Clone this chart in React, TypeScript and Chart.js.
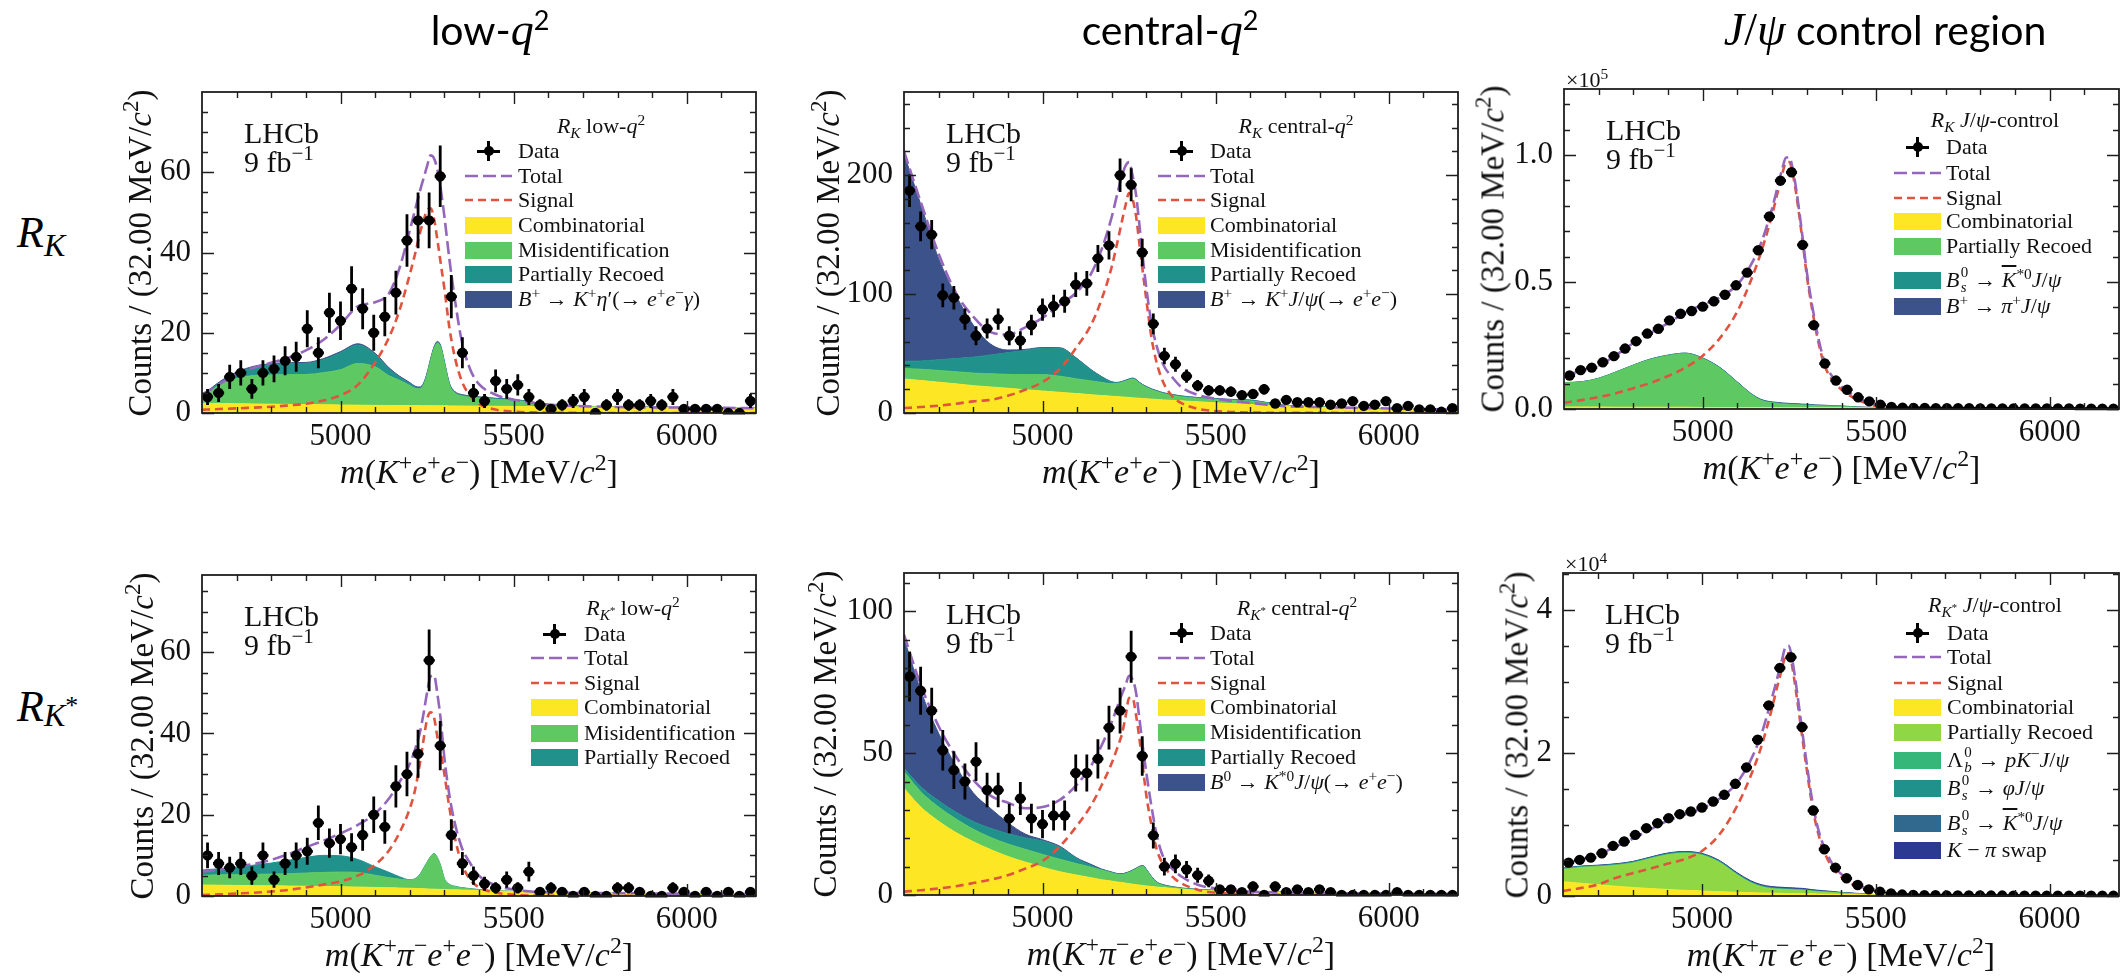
import React, { useEffect, useRef } from 'react';
import { Chart, registerables } from 'chart.js';

Chart.register(...registerables);

// ---------------- shared axis values ----------------
const binCenters = [4616, 4648, 4680, 4712, 4744, 4776, 4808, 4840, 4872, 4904, 4936, 4968, 5000, 5032, 5064, 5096, 5128, 5160, 5192, 5224, 5256, 5288, 5320, 5352, 5384, 5416, 5448, 5480, 5512, 5544, 5576, 5608, 5640, 5672, 5704, 5736, 5768, 5800, 5832, 5864, 5896, 5928, 5960, 5992, 6024, 6056, 6088, 6120, 6152, 6184];
const binHalfWidth = 16;
const curveMass = [4600, 4650, 4700, 4750, 4800, 4850, 4900, 4950, 5000, 5050, 5100, 5140, 5170, 5200, 5215, 5230, 5240, 5250, 5260, 5270, 5280, 5290, 5300, 5315, 5330, 5350, 5375, 5400, 5450, 5500, 5550, 5600, 5700, 5800, 5900, 6000, 6100, 6200];
const xMajorTicks = [5000, 5500, 6000];
const xMinorTicks = [4700, 4800, 4900, 5100, 5200, 5300, 5400, 5600, 5700, 5800, 5900, 6100];

// ---------------- R_K low-q2 ----------------
const rkLowCounts = [4, 5, 9, 10, 6, 10, 11, 13, 14, 21, 15, 25, 23, 31, 26, 20, 24, 30, 43, 48, 48, 59, 29, 15, 5, 3, 8, 6, 7, 4, 2, 1, 2, 3, 4, 0, 2, 4, 2, 2, 3, 2, 4, 1, 1, 1, 1, 0, 0, 3];
const rkLowComb = [2.4, 2.35, 2.3, 2.25, 2.2, 2.15, 2.1, 2.05, 2.0, 1.95, 1.9, 1.88, 1.86, 1.85, 1.84, 1.83, 1.82, 1.82, 1.81, 1.8, 1.8, 1.79, 1.78, 1.77, 1.76, 1.75, 1.73, 1.72, 1.68, 1.65, 1.6, 1.57, 1.5, 1.45, 1.38, 1.32, 1.27, 1.22];
const rkLowMisid = [1.3, 4.6, 6.3, 7.1, 7.3, 7.4, 7.5, 8.0, 8.8, 10.4, 9.6, 7.4, 6.3, 5.0, 4.3, 4.2, 5.2, 7.7, 11.2, 14.2, 15.6, 14.4, 10.7, 5.2, 3.2, 2.5, 2.2, 2.0, 1.7, 1.5, 1.0, 0.4, 0.1, 0.05, 0.04, 0.03, 0.03, 0.03];
const rkLowPartReco = [0.3, 0.5, 1.3, 2.0, 2.5, 2.7, 2.7, 3.2, 4.2, 4.6, 3.1, 1.7, 0.8, 0.5, 0.3, 0.2, 0.2, 0.2, 0.2, 0.2, 0.2, 0.2, 0.2, 0.2, 0.2, 0.2, 0.2, 0.2, 0.18, 0.16, 0.15, 0.1, 0.05, 0.03, 0.03, 0.03, 0.03, 0.03];
const rkLowEtaPrime = [0.3, 0.3, 0.3, 0.3, 0.3, 0.3, 0.3, 0.3, 0.3, 0.3, 0.3, 0.3, 0.25, 0.25, 0.25, 0.25, 0.25, 0.25, 0.25, 0.25, 0.25, 0.25, 0.2, 0.2, 0.2, 0.15, 0.15, 0.1, 0.1, 0.08, 0.06, 0.05, 0.04, 0.03, 0.03, 0.02, 0.02, 0.02];
const rkLowSignal = [0.8, 1.0, 1.15, 1.35, 1.55, 1.9, 2.3, 3.1, 4.4, 7.0, 12.6, 18.8, 25.5, 34.5, 39.5, 45, 48, 50.5, 51, 48.5, 43, 37, 31, 21, 14, 8, 4.2, 2.3, 0.8, 0.35, 0.15, 0.07, 0.03, 0.01, 0.01, 0.01, 0.01, 0.01];
const rkLowTotal = [4.6, 7.2, 9.6, 11.3, 12.5, 13.8, 15.6, 18.2, 22.0, 26.6, 27.6, 29.8, 36.0, 45.5, 50.5, 55.5, 58.5, 61.5, 64.2, 63.5, 60.6, 55.5, 49, 38, 28.5, 18, 10.8, 7.2, 4.5, 3.3, 2.6, 2.1, 1.7, 1.5, 1.4, 1.35, 1.3, 1.2];

// ---------------- R_K central-q2 ----------------
const rkCentralCounts = [187, 157, 150, 99, 97, 79, 65, 71, 79, 65, 61, 74, 87, 90, 94, 108, 109, 130, 141, 200, 192, 135, 75, 48, 41, 31, 23, 19, 19, 18, 15, 16, 20, 8, 11, 9, 9, 9, 7, 8, 10, 6, 7, 10, 4, 6, 3, 3, 1, 4];
const rkCentralComb = [28.6, 27.3, 25.9, 24.5, 23.0, 21.9, 20.8, 19.6, 18.5, 17.4, 16.3, 15.4, 14.7, 14.1, 13.8, 13.5, 13.3, 13.1, 12.8, 12.6, 12.4, 12.2, 12.0, 11.7, 11.4, 11.0, 10.6, 10.2, 9.4, 8.6, 7.8, 7.2, 5.9, 4.8, 3.8, 3.0, 2.5, 2.0];
const rkCentralMisid = [8.9, 9.5, 9.9, 10.2, 10.6, 11.1, 11.7, 12.6, 13.7, 13.6, 12.3, 11.6, 11.1, 10.5, 11.0, 12.3, 13.5, 14.7, 15.8, 14.9, 12.6, 10.8, 9.5, 7.8, 6.6, 5.2, 4.2, 3.4, 2.8, 2.7, 2.8, 2.9, 0.3, 0.2, 0.2, 0.2, 0.1, 0.1];
const rkCentralPartReco = [5.9, 7.0, 9.0, 11.1, 13.4, 15.8, 18.3, 20.4, 22.4, 23.5, 16.9, 9.2, 4.7, 1.4, 0.7, 0.6, 0.6, 0.6, 0.6, 0.6, 0.6, 0.6, 0.6, 0.6, 0.6, 0.6, 0.6, 0.6, 0.6, 0.6, 0.6, 0.6, 0.2, 0.1, 0.1, 0.1, 0.1, 0.1];
const rkCentralJpsiLeak = [174.6, 130.2, 85.2, 53.2, 27, 9.2, 2.2, 0.9, 0.5, 0.4, 0.3, 0.3, 0.3, 0.3, 0.2, 0.2, 0.2, 0.2, 0.2, 0.2, 0.2, 0.2, 0.2, 0.2, 0.2, 0.2, 0.2, 0.2, 0.2, 0.2, 0.2, 0.2, 0.1, 0.1, 0.1, 0.1, 0.1, 0.1];
const rkCentralSignal = [4.2, 5.0, 6.2, 7.8, 9.8, 11, 14.5, 19.5, 26, 37, 56, 74, 95, 123, 142, 162, 175, 185, 180, 166, 142, 118, 95, 63, 42, 25, 14, 8.5, 3.4, 1.6, 0.8, 0.4, 0.15, 0.08, 0.05, 0.05, 0.05, 0.05];
const rkCentralTotal = [220, 176, 134, 101, 81, 68, 66, 72, 80, 91, 102, 117, 137, 165, 183, 200, 208, 211, 200, 184, 158, 130, 105, 75, 56, 40, 30, 22, 15, 12, 10, 8.5, 5.8, 5, 4.4, 3.8, 3.3, 2.8];

// ---------------- R_K J/psi control (x 10^5) ----------------
const rkJpsiCounts = [0.132, 0.153, 0.163, 0.184, 0.208, 0.238, 0.267, 0.297, 0.316, 0.349, 0.375, 0.386, 0.403, 0.424, 0.45, 0.487, 0.537, 0.625, 0.758, 0.899, 0.932, 0.646, 0.33, 0.179, 0.112, 0.076, 0.046, 0.03, 0.017, 0.008, 0.005, 0.004, 0.004, 0.003, 0.003, 0.003, 0.003, 0.002, 0.002, 0.002, 0.002, 0.002, 0.002, 0.002, 0.002, 0.002, 0.001, 0.001, 0.001, 0.001];
const rkJpsiComb = [0.008, 0.008, 0.008, 0.007, 0.007, 0.007, 0.007, 0.007, 0.006, 0.006, 0.006, 0.006, 0.006, 0.006, 0.006, 0.005, 0.005, 0.005, 0.005, 0.005, 0.005, 0.005, 0.005, 0.005, 0.005, 0.005, 0.005, 0.005, 0.005, 0.004, 0.004, 0.004, 0.004, 0.003, 0.003, 0.003, 0.003, 0.003];
const rkJpsiPartReco = [0.095, 0.098, 0.112, 0.138, 0.165, 0.188, 0.203, 0.211, 0.192, 0.154, 0.097, 0.051, 0.027, 0.018, 0.016, 0.015, 0.014, 0.013, 0.012, 0.012, 0.011, 0.010, 0.010, 0.009, 0.008, 0.007, 0.006, 0.005, 0.002, 0.001, 0, 0, 0, 0, 0, 0, 0, 0];
const rkJpsiBsKstar = [0.001, 0.001, 0.001, 0.001, 0.001, 0.002, 0.002, 0.002, 0.002, 0.002, 0.002, 0.002, 0.002, 0.002, 0.002, 0.002, 0.002, 0.002, 0.002, 0.002, 0.002, 0.002, 0.002, 0.001, 0.001, 0.001, 0.001, 0.001, 0, 0, 0, 0, 0, 0, 0, 0, 0, 0];
const rkJpsiBtoPi = [0, 0, 0, 0, 0, 0, 0, 0, 0.001, 0.001, 0.001, 0.001, 0.002, 0.002, 0.002, 0.002, 0.002, 0.002, 0.002, 0.002, 0.002, 0.002, 0.002, 0.002, 0.002, 0.002, 0.001, 0.001, 0.001, 0.001, 0, 0, 0, 0, 0, 0, 0, 0];
const rkJpsiSignal = [0.024, 0.035, 0.047, 0.062, 0.082, 0.103, 0.13, 0.163, 0.21, 0.28, 0.385, 0.51, 0.625, 0.765, 0.848, 0.93, 0.97, 0.972, 0.923, 0.843, 0.744, 0.635, 0.525, 0.396, 0.285, 0.176, 0.112, 0.076, 0.034, 0.012, 0.005, 0.003, 0.001, 0.0005, 0.0005, 0.0005, 0.0005, 0.0005];
const rkJpsiTotal = [0.128, 0.152, 0.172, 0.212, 0.26, 0.30, 0.338, 0.38, 0.41, 0.44, 0.49, 0.57, 0.66, 0.79, 0.87, 0.95, 0.99, 0.99, 0.94, 0.86, 0.76, 0.65, 0.54, 0.41, 0.30, 0.19, 0.125, 0.088, 0.043, 0.018, 0.008, 0.005, 0.003, 0.003, 0.0025, 0.002, 0.002, 0.0015];

// ---------------- R_K* low-q2 ----------------
const rkstLowCounts = [10, 8, 7, 8, 5, 10, 4, 8, 10, 11, 18, 13, 14, 12, 15, 20, 17, 27, 30, 35, 58, 37, 15, 8, 5, 3, 2, 4, 2, 6, 1, 2, 1, 0, 1, 0, 0, 2, 2, 1, 0, 0, 2, 1, 0, 1, 0, 1, 0, 1];
const rkstLowComb = [2.7, 2.65, 2.6, 2.55, 2.5, 2.45, 2.4, 2.35, 2.3, 2.2, 2.1, 2.02, 1.96, 1.9, 1.86, 1.82, 1.78, 1.74, 1.7, 1.67, 1.64, 1.62, 1.6, 1.56, 1.52, 1.47, 1.41, 1.35, 1.22, 1.1, 1.0, 0.9, 0.75, 0.65, 0.55, 0.5, 0.45, 0.4];
const rkstLowMisid = [2.4, 2.55, 2.65, 2.75, 2.9, 3.05, 3.25, 3.45, 3.6, 3.6, 3.0, 2.5, 2.2, 2.0, 2.3, 3.5, 5.0, 6.5, 7.9, 8.7, 7.7, 5.6, 2.6, 1.2, 0.8, 0.5, 0.3, 0.15, 0.05, 0.02, 0.02, 0.02, 0.02, 0.02, 0.02, 0.02, 0.02, 0.02];
const rkstLowPartReco = [1.3, 1.5, 1.85, 2.3, 2.7, 3.3, 3.85, 4.2, 4.0, 3.2, 2.1, 1.3, 0.6, 0.1, 0.1, 0.1, 0.1, 0.1, 0.1, 0.1, 0.1, 0.1, 0.1, 0.1, 0.1, 0.1, 0.1, 0.1, 0.05, 0.03, 0.02, 0.02, 0.02, 0.01, 0.01, 0.01, 0.01, 0.01];
const rkstLowSignal = [0.25, 0.4, 0.6, 0.8, 1.1, 1.5, 2.1, 2.8, 3.6, 5.0, 7.7, 11.2, 15.5, 21.5, 26, 33, 38.5, 43.5, 45.2, 44.0, 39, 35, 30, 21.5, 14.5, 8, 4, 2.1, 0.8, 0.3, 0.12, 0.05, 0.02, 0.02, 0.02, 0.02, 0.02, 0.02];
const rkstLowTotal = [6.0, 6.5, 7.2, 7.9, 8.9, 10.3, 12.0, 13.6, 15.4, 17.5, 20.3, 24.0, 28.0, 32.5, 36.0, 40.5, 45, 50, 54, 54.3, 49.6, 43, 34, 24.5, 18, 12, 8, 5.0, 2.6, 1.6, 1.1, 0.9, 0.75, 0.7, 0.62, 0.57, 0.53, 0.5];

// ---------------- R_K* central-q2 ----------------
const rkstCentralCounts = [77, 72, 65, 51, 44, 40, 47, 37, 37, 27, 34, 27, 25, 28, 28, 43, 43, 48, 59, 65, 84, 49, 21, 10, 11, 9, 7, 5, 2, 2, 1, 3, 0, 3, 1, 2, 1, 2, 1, 0, 0, 0, 0, 0, 1, 0, 0, 0, 0, 0];
const rkstCentralComb = [37.6, 30.8, 26.0, 22.0, 18.8, 16.0, 13.6, 11.6, 9.8, 8.2, 7.0, 6.1, 5.4, 4.9, 4.6, 4.4, 4.2, 4.0, 3.8, 3.65, 3.5, 3.35, 3.2, 3.0, 2.8, 2.6, 2.3, 2.05, 1.65, 1.4, 1.2, 1.05, 0.85, 0.7, 0.6, 0.52, 0.46, 0.4];
const rkstCentralMisid = [5.9, 5.4, 5.0, 4.8, 4.4, 4.3, 4.4, 4.5, 4.5, 4.4, 4.0, 3.7, 3.4, 2.9, 2.7, 2.8, 3.3, 3.9, 4.7, 5.45, 6.3, 6.75, 5.6, 3.2, 1.5, 0.7, 0.4, 0.25, 0.2, 0.15, 0.1, 0.07, 0.05, 0.04, 0.03, 0.03, 0.02, 0.02];
const rkstCentralPartReco = [1.2, 1.8, 2.2, 2.4, 2.7, 3.2, 3.6, 4.1, 4.7, 4.2, 1.8, 0.6, 0.2, 0.2, 0.2, 0.2, 0.2, 0.2, 0.2, 0.2, 0.2, 0.2, 0.2, 0.2, 0.2, 0.2, 0.15, 0.1, 0.08, 0.05, 0.04, 0.03, 0.02, 0.02, 0.01, 0.01, 0.01, 0.01];
const rkstCentralJpsiLeak = [45.8, 33.5, 23.8, 16.3, 10.1, 7.0, 3.9, 1.3, 0.5, 0.4, 0.2, 0.4, 0.2, 0.1, 0.1, 0.1, 0.1, 0.1, 0.1, 0.1, 0.1, 0.1, 0.1, 0.1, 0.1, 0.1, 0.1, 0.1, 0.05, 0.05, 0.03, 0.02, 0.02, 0.01, 0.01, 0.01, 0.01, 0.01];
const rkstCentralSignal = [1.2, 1.7, 2.3, 3.1, 4.2, 5.4, 7.0, 9.3, 12.0, 17.1, 24.5, 31.5, 38.5, 46.5, 51.5, 57, 63, 69.4, 69.5, 63.5, 55, 45, 35, 24.5, 16, 10.5, 6.5, 4.2, 1.8, 0.8, 0.4, 0.2, 0.08, 0.03, 0.03, 0.03, 0.03, 0.03];
const rkstCentralTotal = [91.8, 73.5, 59.5, 48.8, 40.6, 35, 32.5, 30.6, 31.0, 33.5, 39, 45.5, 52.5, 61, 66, 71, 74, 77.3, 76, 71.5, 62, 52, 43, 31, 21, 13, 9.2, 6.6, 3.5, 2.3, 1.5, 1.2, 0.8, 0.7, 0.6, 0.5, 0.45, 0.4];

// ---------------- R_K* J/psi control (x 10^4) ----------------
const rkstJpsiCounts = [0.467, 0.505, 0.537, 0.598, 0.701, 0.762, 0.855, 0.949, 1.019, 1.089, 1.145, 1.182, 1.238, 1.322, 1.416, 1.570, 1.799, 2.187, 2.668, 3.192, 3.341, 2.364, 1.196, 0.654, 0.397, 0.248, 0.154, 0.093, 0.061, 0.037, 0.02, 0.015, 0.012, 0.01, 0.009, 0.008, 0.007, 0.007, 0.006, 0.006, 0.005, 0.005, 0.005, 0.004, 0.004, 0.004, 0.004, 0.003, 0.003, 0.003];
const rkstJpsiComb = [0.2, 0.178, 0.158, 0.138, 0.12, 0.105, 0.092, 0.08, 0.07, 0.06, 0.052, 0.047, 0.043, 0.04, 0.038, 0.037, 0.036, 0.035, 0.034, 0.033, 0.033, 0.032, 0.031, 0.03, 0.028, 0.026, 0.024, 0.022, 0.019, 0.016, 0.013, 0.011, 0.009, 0.007, 0.006, 0.005, 0.004, 0.004];
const rkstJpsiPartReco = [0.17, 0.22, 0.252, 0.29, 0.34, 0.415, 0.483, 0.518, 0.5, 0.41, 0.248, 0.138, 0.087, 0.063, 0.059, 0.056, 0.054, 0.053, 0.052, 0.051, 0.049, 0.048, 0.044, 0.038, 0.033, 0.029, 0.024, 0.018, 0.009, 0.002, 0, 0, 0, 0, 0, 0, 0, 0];
const rkstJpsiLambdaB = [0.008, 0.008, 0.008, 0.008, 0.008, 0.008, 0.008, 0.008, 0.008, 0.008, 0.008, 0.007, 0.007, 0.006, 0.006, 0.006, 0.006, 0.005, 0.005, 0.005, 0.005, 0.005, 0.005, 0.004, 0.004, 0.004, 0.003, 0.003, 0.002, 0.001, 0, 0, 0, 0, 0, 0, 0, 0];
const rkstJpsiBsPhi = [0.004, 0.004, 0.004, 0.004, 0.004, 0.004, 0.004, 0.004, 0.004, 0.004, 0.004, 0.004, 0.003, 0.003, 0.003, 0.003, 0.003, 0.003, 0.003, 0.003, 0.003, 0.003, 0.002, 0.002, 0.002, 0.002, 0.002, 0.001, 0.001, 0, 0, 0, 0, 0, 0, 0, 0, 0];
const rkstJpsiBsKstar = [0.004, 0.004, 0.005, 0.005, 0.006, 0.006, 0.007, 0.007, 0.007, 0.007, 0.007, 0.006, 0.006, 0.006, 0.006, 0.006, 0.006, 0.006, 0.006, 0.005, 0.005, 0.005, 0.005, 0.004, 0.004, 0.003, 0.003, 0.002, 0.001, 0, 0, 0, 0, 0, 0, 0, 0, 0];
const rkstJpsiSwap = [0.004, 0.004, 0.004, 0.005, 0.005, 0.005, 0.006, 0.006, 0.007, 0.008, 0.01, 0.012, 0.013, 0.014, 0.014, 0.014, 0.014, 0.014, 0.014, 0.014, 0.014, 0.013, 0.013, 0.012, 0.011, 0.01, 0.008, 0.006, 0.004, 0.002, 0.001, 0, 0, 0, 0, 0, 0, 0];
const rkstJpsiSignal = [0.07, 0.11, 0.16, 0.25, 0.32, 0.38, 0.45, 0.515, 0.63, 0.86, 1.25, 1.68, 2.08, 2.6, 2.9, 3.18, 3.36, 3.4, 3.2, 2.88, 2.53, 2.17, 1.82, 1.33, 0.96, 0.64, 0.4, 0.27, 0.12, 0.05, 0.022, 0.011, 0.004, 0.002, 0.002, 0.002, 0.002, 0.002];
const rkstJpsiTotal = [0.45, 0.51, 0.575, 0.69, 0.80, 0.93, 1.05, 1.14, 1.23, 1.36, 1.58, 1.90, 2.25, 2.75, 3.02, 3.30, 3.48, 3.5, 3.30, 2.98, 2.62, 2.25, 1.90, 1.40, 1.02, 0.70, 0.45, 0.31, 0.15, 0.07, 0.035, 0.022, 0.015, 0.012, 0.01, 0.008, 0.007, 0.006];

// ---------------- styles ----------------
const SERIF = '"Liberation Serif", "DejaVu Serif", serif';
const SANS = 'Lato, "Open Sans", "Noto Sans", sans-serif';
const C_COMB = '#fde725';
const C_MISID = '#5ec962';
const C_PART = '#21918c';
const C_PEAK = '#3b528b';
const C_PART6 = '#8fd744';
const C_LB6 = '#35b779';
const C_PHI6 = '#21918c';
const C_KST6 = '#31688e';
const C_SWAP6 = '#2b3990';
const C_TOTAL = '#9467bd';
const C_SIGNAL = '#e0533f';
const PAD_L = 110, PAD_T = 40, PAD_R = 20, PAD_B = 60;
const LEGEND_FONT = 22;

const Sup = ({ children }: any) => (
  <span style={{ fontSize: '0.7em', position: 'relative', top: '-0.55em', lineHeight: 0 }}>{children}</span>
);
const Sub = ({ children }: any) => (
  <span style={{ fontSize: '0.7em', position: 'relative', top: '0.3em', lineHeight: 0 }}>{children}</span>
);
const SupSub = ({ sup, sub }: any) => (
  <span style={{ position: 'relative', display: 'inline-block', width: '0.42em', height: 0 }}>
    <span style={{ position: 'absolute', left: '0.08em', top: '-1.45em', fontSize: '0.68em', lineHeight: 1 }}>{sup}</span>
    <span style={{ position: 'absolute', left: '0.08em', top: '-0.5em', fontSize: '0.68em', lineHeight: 1 }}>{sub}</span>
  </span>
);
const Ovl = ({ children }: any) => <span style={{ textDecoration: 'overline' }}>{children}</span>;

const RK = <><i>R</i><Sub><i>K</i></Sub></>;
const RKst = <><i>R</i><Sub><i>K</i><span style={{ fontSize: '0.7em', position: 'relative', top: '-0.5em' }}>*</span></Sub></>;
const q2 = <><i>q</i><Sup>2</Sup></>;
const JPsi = <><i>J</i>/<i>ψ</i></>;
const xTitleK = <><i>m</i>(<i>K</i><Sup>+</Sup><i>e</i><Sup>+</Sup><i>e</i><Sup>−</Sup>) [MeV/<i>c</i><Sup>2</Sup>]</>;
const xTitleKpi = <><i>m</i>(<i>K</i><Sup>+</Sup><i>π</i><Sup>−</Sup><i>e</i><Sup>+</Sup><i>e</i><Sup>−</Sup>) [MeV/<i>c</i><Sup>2</Sup>]</>;

const panels: any[] = [
  {
    key: 'rkLow', counts: rkLowCounts, unit: 1, signal: rkLowSignal, total: rkLowTotal,
    layers: [
      { label: 'Combinatorial', color: C_COMB, values: rkLowComb },
      { label: 'Misidentification', color: C_MISID, values: rkLowMisid },
      { label: 'Partially Recoed', color: C_PART, values: rkLowPartReco },
      { label: <><i>B</i><Sup>+</Sup> → <i>K</i><Sup>+</Sup><i>η</i>′(→ <i>e</i><Sup>+</Sup><i>e</i><Sup>−</Sup><i>γ</i>)</>, color: C_PEAK, values: rkLowEtaPrime },
    ],
    yMax: 80, yMajor: [0, 20, 40, 60], yMinorStep: 5, yDecimals: 0,
    box: { left: 202, top: 92, width: 554, height: 321 }, yTitleX: 140,
    legend: { title: <>{RK} low-{q2}</>, symLeft: 263, textLeft: 316, titleX: 399, titleY: 34, rows: [59, 84, 108, 133, 158, 182, 207] },
    xTitle: xTitleK,
  },
  {
    key: 'rkCentral', counts: rkCentralCounts, unit: 1, signal: rkCentralSignal, total: rkCentralTotal,
    layers: [
      { label: 'Combinatorial', color: C_COMB, values: rkCentralComb },
      { label: 'Misidentification', color: C_MISID, values: rkCentralMisid },
      { label: 'Partially Recoed', color: C_PART, values: rkCentralPartReco },
      { label: <><i>B</i><Sup>+</Sup> → <i>K</i><Sup>+</Sup>{JPsi}(→ <i>e</i><Sup>+</Sup><i>e</i><Sup>−</Sup>)</>, color: C_PEAK, values: rkCentralJpsiLeak },
    ],
    yMax: 270, yMajor: [0, 100, 200], yMinorStep: 20, yDecimals: 0,
    box: { left: 904, top: 92, width: 554, height: 321 }, yTitleX: 828,
    legend: { title: <>{RK} central-{q2}</>, symLeft: 254, textLeft: 306, titleX: 392, titleY: 34, rows: [59, 84, 108, 133, 158, 182, 207] },
    xTitle: xTitleK,
  },
  {
    key: 'rkJpsi', counts: rkJpsiCounts, unit: 1e5, signal: rkJpsiSignal, total: rkJpsiTotal,
    layers: [
      { label: 'Combinatorial', color: C_COMB, values: rkJpsiComb },
      { label: 'Partially Recoed', color: C_MISID, values: rkJpsiPartReco },
      { label: <><i>B</i><SupSub sup="0" sub={<i>s</i>} /> → <Ovl><i>K</i></Ovl><Sup>*0</Sup>{JPsi}</>, color: C_PART, values: rkJpsiBsKstar },
      { label: <><i>B</i><Sup>+</Sup> → <i>π</i><Sup>+</Sup>{JPsi}</>, color: C_PEAK, values: rkJpsiBtoPi },
    ],
    yMax: 1.26, yMajor: [0, 0.5, 1.0], yMinorStep: 0.1, yDecimals: 1,
    box: { left: 1564, top: 89, width: 555, height: 320 }, yTitleX: 1493,
    legend: { title: <>{RK} {JPsi}-control</>, symLeft: 330, textLeft: 382, titleX: 431, titleY: 31, rows: [58, 84, 109, 132, 157, 191, 217] },
    xTitle: xTitleK, exponent: '5',
  },
  {
    key: 'rkstLow', counts: rkstLowCounts, unit: 1, signal: rkstLowSignal, total: rkstLowTotal,
    layers: [
      { label: 'Combinatorial', color: C_COMB, values: rkstLowComb },
      { label: 'Misidentification', color: C_MISID, values: rkstLowMisid },
      { label: 'Partially Recoed', color: C_PART, values: rkstLowPartReco },
    ],
    yMax: 79, yMajor: [0, 20, 40, 60], yMinorStep: 5, yDecimals: 0,
    box: { left: 202, top: 575, width: 554, height: 321 }, yTitleX: 142,
    legend: { title: <>{RKst} low-{q2}</>, symLeft: 329, textLeft: 382, titleX: 431, titleY: 33, rows: [59, 83, 108, 132, 158, 182] },
    xTitle: xTitleKpi,
  },
  {
    key: 'rkstCentral', counts: rkstCentralCounts, unit: 1, signal: rkstCentralSignal, total: rkstCentralTotal,
    layers: [
      { label: 'Combinatorial', color: C_COMB, values: rkstCentralComb },
      { label: 'Misidentification', color: C_MISID, values: rkstCentralMisid },
      { label: 'Partially Recoed', color: C_PART, values: rkstCentralPartReco },
      { label: <><i>B</i><Sup>0</Sup> → <i>K</i><Sup>*0</Sup>{JPsi}(→ <i>e</i><Sup>+</Sup><i>e</i><Sup>−</Sup>)</>, color: C_PEAK, values: rkstCentralJpsiLeak },
    ],
    yMax: 113.5, yMajor: [0, 50, 100], yMinorStep: 10, yDecimals: 0,
    box: { left: 904, top: 573, width: 554, height: 322 }, yTitleX: 825,
    legend: { title: <>{RKst} central-{q2}</>, symLeft: 254, textLeft: 306, titleX: 393, titleY: 35, rows: [60, 85, 110, 134, 159, 184, 209] },
    xTitle: xTitleKpi,
  },
  {
    key: 'rkstJpsi', counts: rkstJpsiCounts, unit: 1e4, signal: rkstJpsiSignal, total: rkstJpsiTotal,
    layers: [
      { label: 'Combinatorial', color: C_COMB, values: rkstJpsiComb },
      { label: 'Partially Recoed', color: C_PART6, values: rkstJpsiPartReco },
      { label: <>Λ<SupSub sup="0" sub={<i>b</i>} /> → <i>pK</i><Sup>−</Sup>{JPsi}</>, color: C_LB6, values: rkstJpsiLambdaB },
      { label: <><i>B</i><SupSub sup="0" sub={<i>s</i>} /> → <i>φ</i>{JPsi}</>, color: C_PHI6, values: rkstJpsiBsPhi },
      { label: <><i>B</i><SupSub sup="0" sub={<i>s</i>} /> → <Ovl><i>K</i></Ovl><Sup>*0</Sup>{JPsi}</>, color: C_KST6, values: rkstJpsiBsKstar },
      { label: <><i>K</i> − <i>π</i> swap</>, color: C_SWAP6, values: rkstJpsiSwap },
    ],
    yMax: 4.52, yMajor: [0, 2, 4], yMinorStep: 0.5, yDecimals: 0,
    box: { left: 1563, top: 573, width: 556, height: 323 }, yTitleX: 1517,
    legend: { title: <>{RKst} {JPsi}-control</>, symLeft: 331, textLeft: 384, titleX: 432, titleY: 32, rows: [60, 84, 110, 134, 159, 187, 215, 250, 277] },
    xTitle: xTitleKpi, exponent: '4',
  },
];

function minorTicks(max: number, step: number, majors: number[]) {
  const out: number[] = [];
  for (let k = 1; k * step < max - 1e-9; k++) {
    const v = +(k * step).toFixed(6);
    if (!majors.some((m) => Math.abs(m - v) < 1e-9)) out.push(v);
  }
  return out;
}

const errorBarPlugin = {
  id: 'errorBars',
  afterDatasetsDraw(chart: any) {
    const { ctx } = chart;
    const xs = chart.scales.x, ys = chart.scales.y;
    chart.data.datasets.forEach((ds: any) => {
      if (!ds.errorBars) return;
      ctx.save();
      ctx.strokeStyle = '#000';
      ctx.lineWidth = 2.8;
      ctx.beginPath();
      ds.data.forEach((pt: any, i: number) => {
        const px = xs.getPixelForValue(pt.x), py = ys.getPixelForValue(pt.y);
        ctx.moveTo(xs.getPixelForValue(pt.x - binHalfWidth), py);
        ctx.lineTo(xs.getPixelForValue(pt.x + binHalfWidth), py);
        const e = ds.errorBars[i];
        if (e > 0) {
          ctx.moveTo(px, ys.getPixelForValue(pt.y - e));
          ctx.lineTo(px, ys.getPixelForValue(pt.y + e));
        }
      });
      ctx.stroke();
      ctx.restore();
    });
  },
};

const frameTicksPlugin = {
  id: 'frameTicks',
  afterDraw(chart: any, _args: any, opts: any) {
    const { ctx, chartArea: a } = chart;
    const xs = chart.scales.x, ys = chart.scales.y;
    ctx.save();
    ctx.strokeStyle = '#1e1e1e';
    ctx.lineWidth = 1.4;
    ctx.beginPath();
    const xt = (v: number, len: number) => {
      const p = Math.round(xs.getPixelForValue(v)) + 0.5;
      ctx.moveTo(p, a.bottom); ctx.lineTo(p, a.bottom - len);
      ctx.moveTo(p, a.top); ctx.lineTo(p, a.top + len);
    };
    const yt = (v: number, len: number) => {
      const p = Math.round(ys.getPixelForValue(v)) + 0.5;
      ctx.moveTo(a.left, p); ctx.lineTo(a.left + len, p);
      ctx.moveTo(a.right, p); ctx.lineTo(a.right - len, p);
    };
    xMajorTicks.forEach((v) => xt(v, 12));
    xMinorTicks.forEach((v) => xt(v, 6));
    (opts.yMajor || []).forEach((v: number) => yt(v, 12));
    (opts.yMinor || []).forEach((v: number) => yt(v, 6));
    ctx.stroke();
    ctx.lineWidth = 1.8;
    ctx.strokeRect(a.left, a.top, a.right - a.left, a.bottom - a.top);
    ctx.restore();
  },
};

function FitPanel({ spec }: any) {
  const ref = useRef<HTMLCanvasElement>(null);
  const b = spec.box;
  const w = b.width + PAD_L + PAD_R;
  const h = b.height + PAD_T + PAD_B;
  useEffect(() => {
    const canvas = ref.current;
    if (!canvas) return;
    const datasets: any[] = [];
    let running = curveMass.map(() => 0);
    spec.layers.forEach((layer: any, k: number) => {
      running = running.map((v, i) => v + layer.values[i]);
      const tops = running.slice();
      datasets.push({
        label: 'layer' + k,
        data: curveMass.map((m, i) => ({ x: m, y: tops[i] })),
        fill: k === 0 ? 'origin' : '-1',
        backgroundColor: layer.color,
        borderColor: layer.color,
        borderWidth: 1,
        pointRadius: 0,
        cubicInterpolationMode: 'monotone',
        order: 10 + k,
      });
    });
    datasets.push({
      label: 'Signal',
      data: curveMass.map((m, i) => ({ x: m, y: spec.signal[i] })),
      borderColor: C_SIGNAL, borderWidth: 2.6, borderDash: [8, 5], fill: false,
      pointRadius: 0, cubicInterpolationMode: 'monotone', order: 2,
    });
    datasets.push({
      label: 'Total',
      data: curveMass.map((m, i) => ({ x: m, y: spec.total[i] })),
      borderColor: C_TOTAL, borderWidth: 2.6, borderDash: [13, 5], fill: false,
      pointRadius: 0, cubicInterpolationMode: 'monotone', order: 1,
    });
    datasets.push({
      label: 'Data',
      data: binCenters.map((m, i) => ({ x: m, y: spec.counts[i] })),
      showLine: false, fill: false,
      pointRadius: 5.2, pointHoverRadius: 5.2,
      pointBackgroundColor: '#000', pointBorderColor: '#000', pointBorderWidth: 0,
      order: 0,
      errorBars: spec.counts.map((v: number) => Math.sqrt(v * spec.unit) / spec.unit),
    });
    const yMinor = minorTicks(spec.yMax, spec.yMinorStep, spec.yMajor);
    const tickFont = { family: SERIF, size: 31 };
    const chart = new Chart(canvas, {
      type: 'line',
      data: { datasets },
      options: {
        animation: false,
        responsive: false,
        maintainAspectRatio: false,
        devicePixelRatio: 1,
        events: [],
        layout: { padding: { left: 0, top: PAD_T, right: PAD_R, bottom: 0 } },
        plugins: {
          legend: { display: false },
          tooltip: { enabled: false },
          frameTicks: { yMajor: spec.yMajor, yMinor },
        },
        scales: {
          x: {
            type: 'linear', min: 4600, max: 6200,
            grid: { display: false, drawTicks: false },
            border: { display: false },
            afterFit: (s: any) => { s.height = PAD_B; },
            afterBuildTicks: (s: any) => { s.ticks = xMajorTicks.map((v) => ({ value: v })); },
            ticks: { font: tickFont, color: '#111', padding: 5, maxRotation: 0, autoSkip: false, callback: (v: any) => String(v) },
          },
          y: {
            type: 'linear', min: 0, max: spec.yMax,
            grid: { display: false, drawTicks: false },
            border: { display: false },
            afterFit: (s: any) => { s.width = PAD_L; },
            afterBuildTicks: (s: any) => { s.ticks = spec.yMajor.map((v: number) => ({ value: v })); },
            ticks: { font: tickFont, color: '#111', padding: 11, autoSkip: false, callback: (v: any) => Number(v).toFixed(spec.yDecimals) },
          },
        },
      },
      plugins: [errorBarPlugin, frameTicksPlugin],
    } as any);
    return () => chart.destroy();
  }, [spec]);
  return (
    <canvas
      ref={ref}
      width={w}
      height={h}
      style={{ position: 'absolute', left: b.left - PAD_L, top: b.top - PAD_T, width: w, height: h }}
    />
  );
}

function LegendSymbol({ kind, color, left, top }: any) {
  const base: any = { position: 'absolute', left, top: top - 12, width: 47, height: 24 };
  if (kind === 'data') {
    return (
      <div style={base}>
        <div style={{ position: 'absolute', left: 12, top: 10.5, width: 23, height: 3, background: '#000' }} />
        <div style={{ position: 'absolute', left: 22, top: 2, width: 3, height: 20, background: '#000' }} />
        <div style={{ position: 'absolute', left: 18.5, top: 7, width: 10, height: 10, borderRadius: '50%', background: '#000' }} />
      </div>
    );
  }
  if (kind === 'total' || kind === 'signal') {
    return (
      <svg style={base} width={47} height={24}>
        <line x1={0} y1={12} x2={47} y2={12} stroke={color} strokeWidth={2.6} strokeDasharray={kind === 'total' ? '13 5' : '8 5'} />
      </svg>
    );
  }
  return <div style={{ position: 'absolute', left, top: top - 8.5, width: 47, height: 17, background: color }} />;
}

function PanelText({ spec }: any) {
  const b = spec.box;
  const abs = (extra: any) => ({ position: 'absolute', whiteSpace: 'nowrap', lineHeight: 1, color: '#111', fontFamily: SERIF, ...extra });
  const entries = [
    { kind: 'data', label: 'Data' },
    { kind: 'total', label: 'Total', color: C_TOTAL },
    { kind: 'signal', label: 'Signal', color: C_SIGNAL },
    ...spec.layers.map((l: any) => ({ kind: 'fill', label: l.label, color: l.color })),
  ];
  const lg = spec.legend;
  return (
    <>
      <div style={abs({ left: spec.yTitleX, top: b.top + b.height / 2, transform: 'translate(-50%,-50%) rotate(-90deg)', fontSize: 33 })}>
        Counts / (32.00 MeV/<i>c</i><Sup>2</Sup>)
      </div>
      <div style={abs({ left: b.left + b.width / 2, top: b.top + b.height + 59, transform: 'translate(-50%,-50%)', fontSize: 34 })}>
        {spec.xTitle}
      </div>
      <div style={abs({ left: b.left + 42, top: b.top + 41, transform: 'translateY(-50%)', fontSize: 30 })}>LHCb</div>
      <div style={abs({ left: b.left + 42, top: b.top + 70, transform: 'translateY(-50%)', fontSize: 30 })}>
        9 fb<Sup>−1</Sup>
      </div>
      {spec.exponent ? (
        <div style={abs({ left: b.left + 2, top: b.top - 9, transform: 'translateY(-50%)', fontSize: 22 })}>
          ×10<Sup>{spec.exponent}</Sup>
        </div>
      ) : null}
      <div style={abs({ left: b.left + lg.titleX, top: b.top + lg.titleY, transform: 'translate(-50%,-50%)', fontSize: LEGEND_FONT })}>
        {lg.title}
      </div>
      {entries.map((e: any, i: number) => (
        <React.Fragment key={i}>
          <LegendSymbol kind={e.kind} color={e.color} left={b.left + lg.symLeft} top={b.top + lg.rows[i]} />
          <div style={abs({ left: b.left + lg.textLeft, top: b.top + lg.rows[i], transform: 'translateY(-50%)', fontSize: LEGEND_FONT })}>
            {e.label}
          </div>
        </React.Fragment>
      ))}
    </>
  );
}

export default function App() {
  const colTitle = (extra: any) => ({ position: 'absolute', top: 7, transform: 'translateX(-50%)', fontFamily: SANS, fontSize: 41, lineHeight: 1, whiteSpace: 'nowrap', color: '#000', ...extra });
  const qItal = { fontFamily: SERIF, fontStyle: 'italic', fontSize: 46 };
  const sq = { fontSize: 27, position: 'relative', top: -15 } as any;
  return (
    <div style={{ position: 'absolute', left: 0, top: 0, width: 2126, height: 980, background: '#fff', overflow: 'hidden' }}>
      {panels.map((p) => <FitPanel key={p.key} spec={p} />)}
      {panels.map((p) => <PanelText key={p.key + '-text'} spec={p} />)}
      <div style={colTitle({ left: 490 })}>
        low-<span style={qItal}>q</span><span style={sq}>2</span>
      </div>
      <div style={colTitle({ left: 1170 })}>
        central-<span style={qItal}>q</span><span style={sq}>2</span>
      </div>
      <div style={colTitle({ left: 1885 })}>
        <span style={qItal}>J</span><span style={{ fontFamily: SERIF, fontSize: 46 }}>/</span><span style={qItal}>ψ</span> control region
      </div>
      <div style={{ position: 'absolute', left: 17, top: 211, fontFamily: SERIF, fontStyle: 'italic', fontSize: 44, lineHeight: 1, whiteSpace: 'nowrap' }}>
        R<span style={{ fontSize: 32, position: 'relative', top: 9 }}>K</span>
      </div>
      <div style={{ position: 'absolute', left: 17, top: 685, fontFamily: SERIF, fontStyle: 'italic', fontSize: 44, lineHeight: 1, whiteSpace: 'nowrap' }}>
        R<span style={{ fontSize: 32, position: 'relative', top: 5 }}>K<span style={{ fontStyle: 'normal', fontSize: 26, position: 'relative', top: -12 }}>*</span></span>
      </div>
    </div>
  );
}
